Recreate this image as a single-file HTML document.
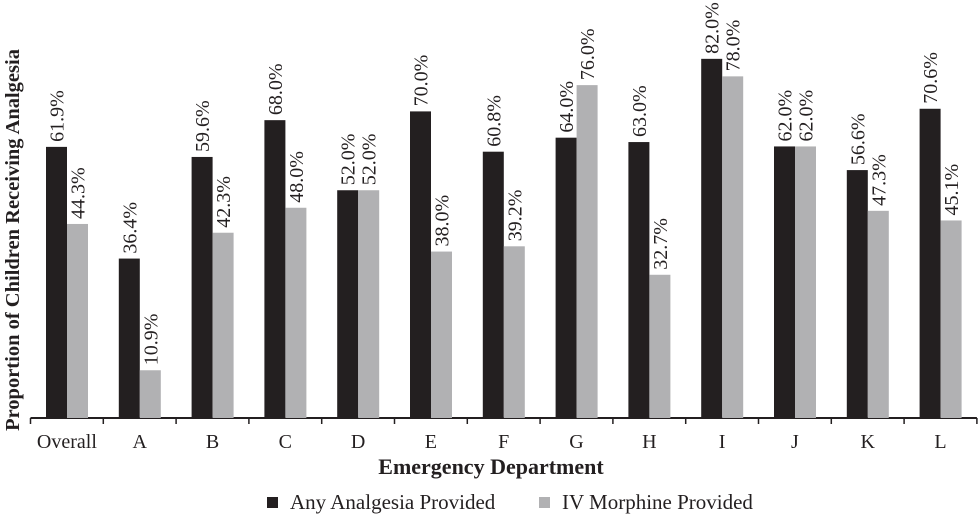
<!DOCTYPE html>
<html><head><meta charset="utf-8"><style>
body{margin:0;background:#fff;}
svg text{font-family:"Liberation Serif",serif;fill:#231f20;}
</style></head><body>
<svg id="chart" width="980" height="516">
<text transform="translate(19,240) rotate(-90)" text-anchor="middle" font-size="20.5" font-weight="bold">Proportion of Children Receiving Analgesia</text>
<text x="491" y="474" text-anchor="middle" font-size="22" font-weight="bold">Emergency Department</text>
<g>
<rect x="267" y="497" width="11" height="11" fill="#231f20"/>
<text x="290" y="509" font-size="21">Any Analgesia Provided</text>
<rect x="539" y="497" width="11" height="11" fill="#b1b1b3"/>
<text x="562" y="509" font-size="21">IV Morphine Provided</text>
</g>
<g id="plot"></g>
</svg>
<script>
const categories=["Overall","A","B","C","D","E","F","G","H","I","J","K","L"];
const anyAnalgesia=[61.9,36.4,59.6,68.0,52.0,70.0,60.8,64.0,63.0,82.0,62.0,56.6,70.6];
const ivMorphine=[44.3,10.9,42.3,48.0,52.0,38.0,39.2,76.0,32.7,78.0,62.0,47.3,45.1];
const NS="http://www.w3.org/2000/svg";
const g=document.getElementById('plot');
const x0=30.5,gw=72.8,base=418,ppu=4.38,bw=21;
const xg=i=>x0+i*gw;
const y=v=>base-v*ppu;
function mk(t,a){const e=document.createElementNS(NS,t);for(const k in a)e.setAttribute(k,a[k]);g.appendChild(e);return e;}
const ax=mk('line',{x1:x0,x2:x0+categories.length*gw,y1:base,y2:base,stroke:'#231f20','stroke-width':2});


for(let i=0;i<=categories.length;i++){
 const t=mk('line',{x1:xg(i),x2:xg(i),y1:base,y2:base+6,stroke:'#231f20','stroke-width':1.5});
 
 
}
categories.forEach((c,i)=>{
 const lb=mk('text',{x:xg(i)+gw/2,y:448,'text-anchor':'middle','font-size':20});
 lb.textContent=c;
 
 
 [[anyAnalgesia[i],'#231f20',0,'bar-any'],[ivMorphine[i],'#b1b1b3',bw,'bar-iv']].forEach(([v,col,off,nm])=>{
  const bx=xg(i)+15.5+off;
  const r=mk('rect',{x:bx,y:y(v),width:bw,height:base-y(v),fill:col});
  
  
  const cx=bx+bw/2+7,cy=y(v)-5;
  const tx=mk('text',{transform:`translate(${cx},${cy}) rotate(-90)`,'font-size':20});
  tx.textContent=v.toFixed(1)+'%';
  
  
 });
});
</script>
</body></html>
